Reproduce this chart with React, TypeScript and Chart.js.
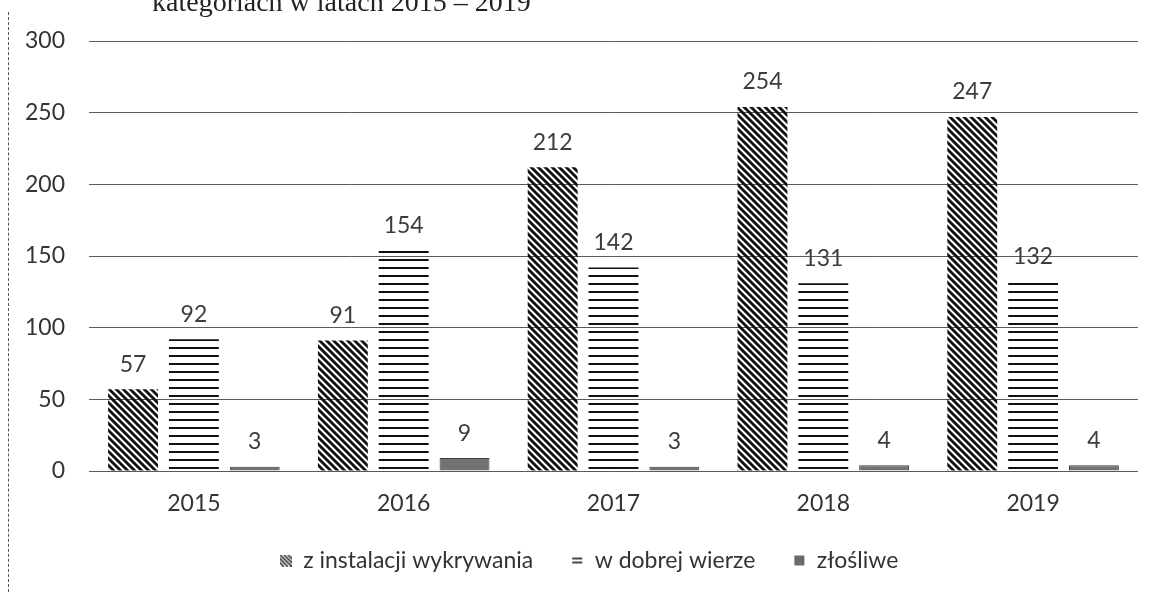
import React, { useEffect, useRef } from "react";
import { Chart, registerables } from "chart.js";

Chart.register(...registerables);

const categories = ["2015", "2016", "2017", "2018", "2019"];
const seriesNames = ["z instalacji wykrywania", "w dobrej wierze", "złośliwe"];
const detectionValues = [57, 91, 212, 254, 247];
const goodFaithValues = [92, 154, 142, 131, 132];
const maliciousValues = [3, 9, 3, 4, 4];
const yTicks = [0, 50, 100, 150, 200, 250, 300];
const titleText = "kategoriach w latach 2015 – 2019";

const FONT = "Lato, 'Open Sans', sans-serif";
const FSIZE = 23;

function makeDiagonal(): CanvasPattern | string {
  const s = 7;
  const c = document.createElement("canvas");
  c.width = s;
  c.height = s;
  const ctx = c.getContext("2d");
  if (!ctx) return "#000";
  ctx.strokeStyle = "#111";
  ctx.lineWidth = 2.8;
  for (let k = -1; k <= 1; k++) {
    ctx.beginPath();
    ctx.moveTo(k * s - 1, -1);
    ctx.lineTo(k * s + s + 1, s + 1);
    ctx.stroke();
  }
  return ctx.createPattern(c, "repeat") || "#000";
}

function makeHorizontal(): CanvasPattern | string {
  const c = document.createElement("canvas");
  c.width = 4;
  c.height = 8;
  const ctx = c.getContext("2d");
  if (!ctx) return "#000";
  ctx.fillStyle = "#111";
  ctx.fillRect(0, 3, 4, 2);
  return ctx.createPattern(c, "repeat") || "#000";
}

function makeIcon(kind: number): HTMLCanvasElement {
  const c = document.createElement("canvas");
  c.width = 12;
  c.height = 12;
  const ctx = c.getContext("2d");
  if (!ctx) return c;
  if (kind === 0) {
    ctx.strokeStyle = "#333";
    ctx.lineWidth = 1.6;
    for (let k = -2; k <= 2; k++) {
      ctx.beginPath();
      ctx.moveTo(k * 4, 0);
      ctx.lineTo(k * 4 + 12, 12);
      ctx.stroke();
    }
  } else if (kind === 1) {
    ctx.fillStyle = "#444";
    ctx.fillRect(1, 3, 10, 2);
    ctx.fillRect(1, 7, 10, 2);
  } else {
    ctx.fillStyle = "#6a6a6a";
    ctx.fillRect(1, 1, 10, 10);
  }
  return c;
}

const valueLabels = {
  id: "valueLabels",
  afterDatasetsDraw(chart: any) {
    const ctx = chart.ctx;
    ctx.save();
    ctx.font = `${FSIZE}px ${FONT}`;
    ctx.fillStyle = "#3c3c3c";
    ctx.textAlign = "center";
    ctx.textBaseline = "middle";
    chart.data.datasets.forEach((ds: any, i: number) => {
      const meta = chart.getDatasetMeta(i);
      meta.data.forEach((bar: any, j: number) => {
        ctx.fillText(String(ds.data[j]), bar.x, bar.y - 25);
      });
    });
    ctx.restore();
  },
};

const legendShift = {
  id: "legendShift",
  afterLayout(chart: any) {
    const l = chart.legend;
    if (l) {
      l.left += 20;
      l.right += 20;
    }
  },
};

export default function App() {
  const ref = useRef<HTMLCanvasElement>(null);

  useEffect(() => {
    if (!ref.current) return;
    const diag = makeDiagonal();
    const horiz = makeHorizontal();
    const icons = [makeIcon(0), makeIcon(1), makeIcon(2)];
    const chart = new Chart(ref.current, {
      type: "bar",
      data: {
        labels: categories,
        datasets: [
          {
            label: seriesNames[0],
            data: detectionValues,
            backgroundColor: diag as any,
            borderWidth: 0,
          },
          {
            label: seriesNames[1],
            data: goodFaithValues,
            backgroundColor: horiz as any,
            borderWidth: 0,
          },
          {
            label: seriesNames[2],
            data: maliciousValues,
            backgroundColor: "#727272",
            borderColor: "#3e3e3e",
            borderWidth: 1,
          },
        ],
      },
      plugins: [valueLabels, legendShift],
      options: {
        animation: false,
        responsive: false,
        maintainAspectRatio: false,
        datasets: {
          bar: { categoryPercentage: 0.87, barPercentage: 0.82 },
        },
        layout: { padding: { top: 41, right: 15, left: 0, bottom: 10 } },
        scales: {
          x: {
            grid: { display: false, drawTicks: false },
            border: { display: false },
            ticks: {
              color: "#333",
              font: { family: FONT, size: FSIZE },
              padding: 19,
            },
            afterFit(scale: any) {
              scale.height = 40;
            },
          },
          y: {
            min: 0,
            max: 300,
            afterBuildTicks(scale: any) {
              scale.ticks = yTicks.map((v) => ({ value: v }));
            },
            grid: { color: "#5a5a5a", lineWidth: 1, drawTicks: false },
            border: { display: false },
            ticks: {
              color: "#333",
              font: { family: FONT, size: FSIZE },
              padding: 24,
            },
            afterFit(scale: any) {
              scale.width = 89;
            },
          },
        },
        plugins: {
          legend: {
            position: "bottom",
            labels: {
              usePointStyle: true,
              boxWidth: 12,
              boxHeight: 12,
              padding: 38,
              color: "#333",
              font: { family: FONT, size: FSIZE },
              generateLabels: () =>
                seriesNames.map((name, i) => ({
                  text: name,
                  pointStyle: icons[i] as any,
                  fillStyle: "#777",
                  strokeStyle: "transparent",
                  lineWidth: 0,
                  hidden: false,
                  datasetIndex: i,
                  fontColor: "#333",
                })),
            },
          },
          tooltip: { enabled: false },
          title: { display: false },
        },
      },
    });
    return () => chart.destroy();
  }, []);

  return (
    <div
      style={{
        position: "fixed",
        left: 0,
        top: 0,
        width: 1153,
        height: 592,
        overflow: "hidden",
        background: "#fff",
      }}
    >
      <div
        style={{
          position: "absolute",
          left: 152,
          top: -12,
          fontFamily: "'Liberation Serif', 'DejaVu Serif', serif",
          fontSize: 28,
          lineHeight: 1,
          color: "#222",
          whiteSpace: "nowrap",
        }}
      >
        {titleText}
      </div>
      <div
        style={{
          position: "absolute",
          left: 8,
          top: 12,
          width: 0,
          height: 580,
          borderLeft: "1px dashed #555",
        }}
      />
      <canvas ref={ref} width={1153} height={592} style={{ display: "block" }} />
    </div>
  );
}
